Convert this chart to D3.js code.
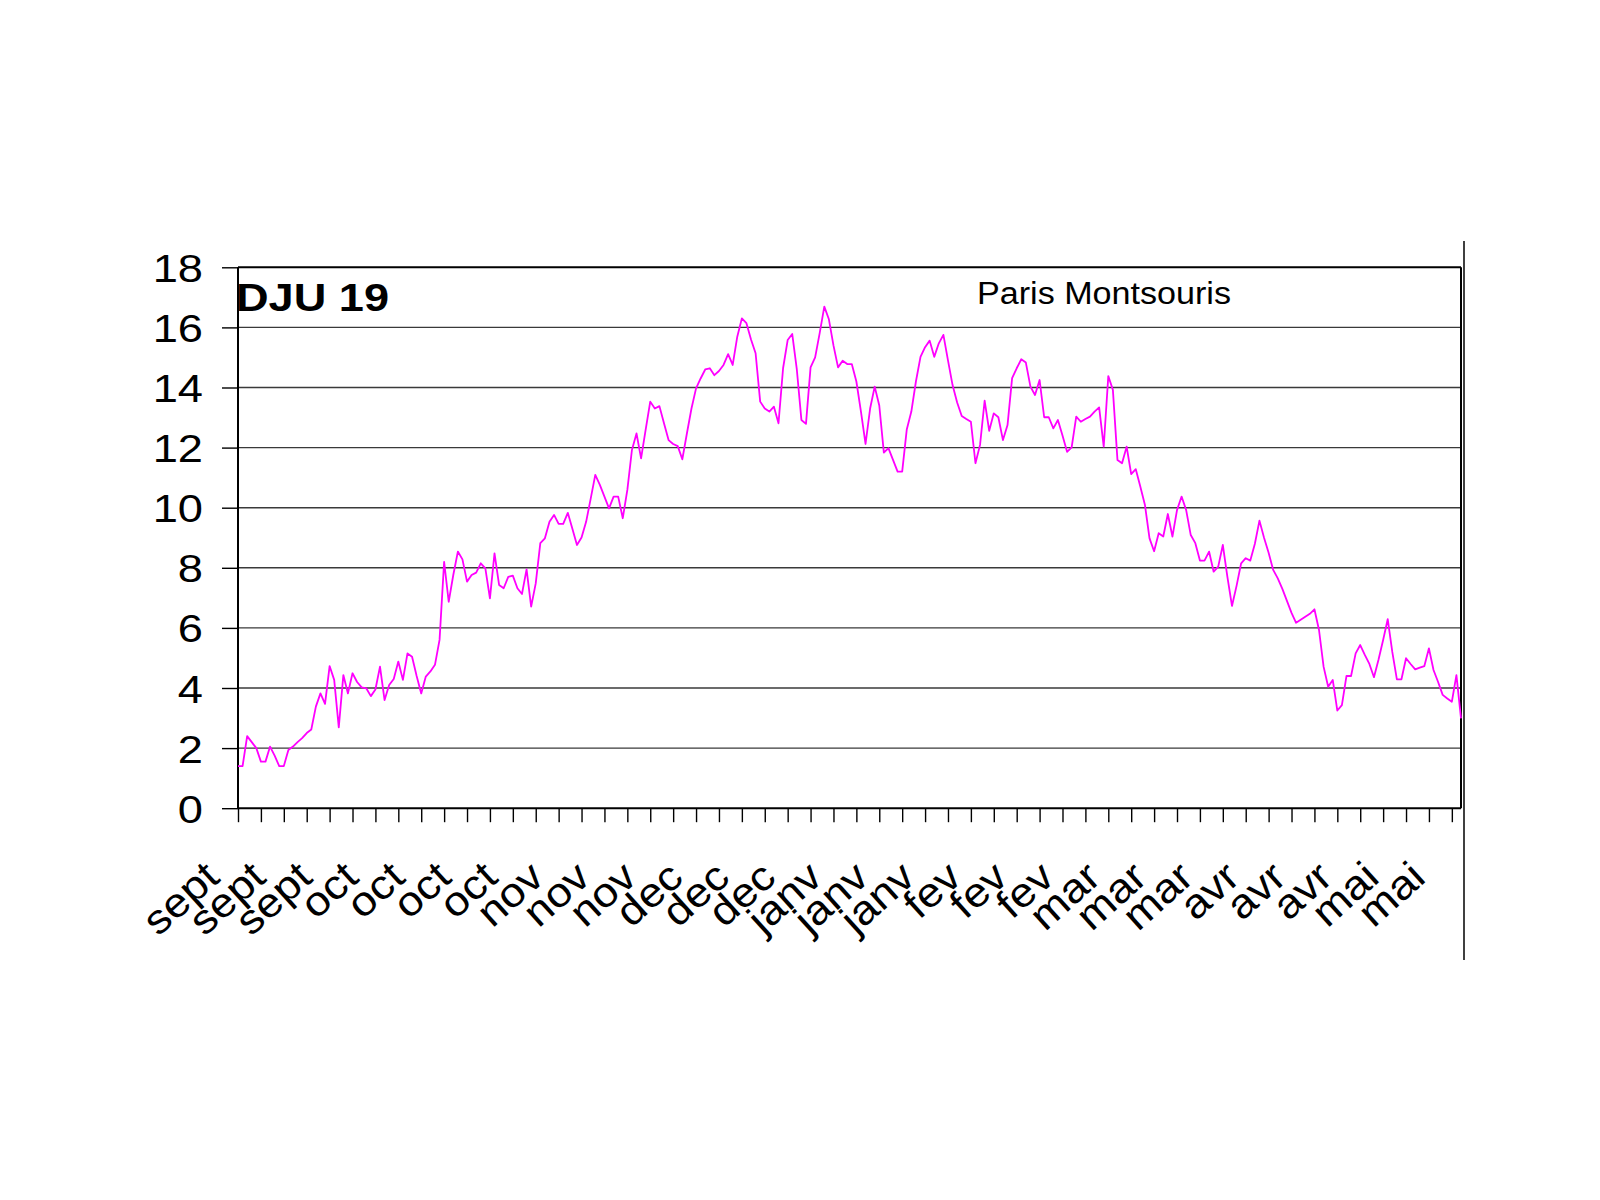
<!DOCTYPE html>
<html><head><meta charset="utf-8">
<script src="https://cdn.jsdelivr.net/npm/d3@7"></script>
<style>body{margin:0;background:#fff}</style>
</head><body><svg id="c" width="1600" height="1200"></svg>
<script>
// Daily DJU values (Sept -> May)
const values = [
1.4,1.4,2.4,2.2,2.0,1.55,1.55,2.05,1.75,1.4,
1.4,1.94,2.05,2.2,2.33,2.5,2.62,3.38,3.82,3.47,
4.73,4.27,2.69,4.43,3.82,4.49,4.2,4.02,3.99,3.73,
3.95,4.71,3.6,4.1,4.3,4.88,4.27,5.15,5.04,4.4,
3.82,4.38,4.55,4.77,5.6,
8.2,6.87,7.76,8.54,8.28,7.54,7.76,7.84,8.15,7.98,6.98,8.48,7.43,7.32,7.7,7.74,7.32,7.13,7.95,6.71,7.48,8.82,
8.98,9.53,9.76,9.46,9.46,9.83,9.3,8.76,9.01,9.53,10.3,11.09,10.76,10.37,9.98,10.37,10.37,9.65,10.59,11.92,12.47,
11.64,12.6,13.53,13.3,13.38,12.81,12.25,12.12,12.05,11.61,12.47,13.3,
13.97,14.3,14.6,14.64,14.41,14.55,14.75,15.11,14.75,15.69,
16.3,16.14,15.6,15.14,13.53,13.3,13.2,13.36,12.81,14.64,
15.58,15.78,14.6,12.92,12.79,14.67,15.0,15.82,16.69,
16.27,15.4,14.67,14.89,14.78,14.78,14.2,13.2,12.12,13.3,
14.03,13.4,11.83,11.98,11.59,11.2,11.2,12.6,13.2,14.2,
15.02,15.34,15.56,15.02,15.47,15.75,14.9,14.08,13.5,13.05,
12.95,12.86,11.48,
12.09,13.56,12.56,13.14,13.01,12.25,12.75,14.31,14.64,14.94,
14.83,14.03,13.75,14.25,13.01,13.01,12.64,12.92,12.4,11.86,
12.01,13.03,12.86,12.95,13.03,13.2,13.34,12.03,14.38,13.92,
11.59,11.48,12.03,11.12,11.28,10.7,10.09,8.98,8.55,
9.15,9.04,9.79,9.04,9.92,10.37,9.92,9.09,8.82,8.24,
8.24,8.54,7.87,8.04,8.76,7.7,6.73,7.4,8.15,8.32,
8.24,8.8,9.57,9.0,8.5,7.93,7.65,7.3,6.9,6.5,
6.17,6.27,6.37,6.47,
6.62,5.93,4.71,4.04,4.27,3.25,3.43,4.4,4.4,5.15,
5.43,5.1,4.8,4.36,4.95,5.6,6.29,5.2,4.29,4.29,
4.99,4.8,4.62,4.68,4.73,5.32,4.6,4.2,3.77,3.65,
3.54,4.43,2.99
];
const xTickLabels = ["sept","sept","sept","oct","oct","oct","oct","nov","nov","nov",
  "dec","dec","dec","janv","janv","janv","fev","fev","fev","mar","mar","mar",
  "avr","avr","avr","mai","mai"];
const yTickValues = [0,2,4,6,8,10,12,14,16,18];
const chartTitle = "DJU 19";
const stationName = "Paris Montsouris";

const svg = d3.select("#c");
const L = 238, R = 1461, T = 267.3, B = 808.2;
const font = "'Liberation Sans', Arial, Helvetica, sans-serif";
const x = d3.scaleLinear().domain([0, values.length - 1]).range([L, R]);
const y = d3.scaleLinear().domain([0, 18]).range([B, T]);

svg.append("rect").attr("width", 1600).attr("height", 1200).attr("fill", "#fff");

// gridlines
svg.append("g").selectAll("line")
  .data(yTickValues.filter(v => v > 0 && v < 18)).join("line")
  .attr("x1", L).attr("x2", R)
  .attr("y1", d => y(d)).attr("y2", d => y(d))
  .attr("stroke", "#3a3a3a").attr("stroke-width", 1.4);

// y axis
const gy = svg.append("g").attr("transform", `translate(${L},0)`)
  .call(d3.axisLeft(y).tickValues(yTickValues).tickSize(16).tickPadding(19).tickFormat(d3.format("d")));
gy.select(".domain").remove();
gy.selectAll(".tick line").attr("stroke", "#000").attr("stroke-width", 1.4);
gy.selectAll(".tick text").attr("font-family", font).attr("font-size", 39).attr("fill", "#000")
  .attr("dy", "0.36em")
  .each(function () { const w = this.getComputedTextLength(); d3.select(this).attr("textLength", w * 1.16).attr("lengthAdjust", "spacingAndGlyphs"); });

// x axis
const tickIdx = d3.range(0, values.length - 1, 5);
const gx = svg.append("g").attr("transform", `translate(0,${B})`)
  .call(d3.axisBottom(x).tickValues(tickIdx).tickSize(14)
    .tickFormat(d => d % 10 === 0 ? xTickLabels[d / 10] : ""));
gx.select(".domain").remove();
gx.selectAll(".tick line").attr("stroke", "#000").attr("stroke-width", 1.4);
gx.selectAll(".tick text").attr("font-family", font).attr("font-size", 41).attr("fill", "#000")
  .attr("x", 0).attr("y", 0).attr("dy", 0)
  .attr("text-anchor", "end")
  .attr("transform", d => `translate(${-17 + 0.058 * d},72) rotate(-42)`)
  .each(function () { const w = this.getComputedTextLength(); if (w > 0) d3.select(this).attr("textLength", w * 1.1).attr("lengthAdjust", "spacingAndGlyphs"); });

// plot frame
svg.append("line").attr("x1", L).attr("x2", R).attr("y1", T).attr("y2", T).attr("stroke", "#000").attr("stroke-width", 2);
svg.append("line").attr("x1", L).attr("x2", R).attr("y1", B).attr("y2", B).attr("stroke", "#000").attr("stroke-width", 2);
svg.append("line").attr("x1", L).attr("x2", L).attr("y1", T).attr("y2", B).attr("stroke", "#000").attr("stroke-width", 2);
svg.append("line").attr("x1", R).attr("x2", R).attr("y1", T).attr("y2", B).attr("stroke", "#000").attr("stroke-width", 2);
// outer right edge line
svg.append("line").attr("x1", R + 3).attr("x2", R + 3).attr("y1", 241).attr("y2", 960).attr("stroke", "#000").attr("stroke-width", 1.5);

// data line
svg.append("path").datum(values)
  .attr("fill", "none").attr("stroke", "#ff00ff").attr("stroke-width", 1.8)
  .attr("stroke-linejoin", "round")
  .attr("d", d3.line().x((d, i) => x(i)).y(d => y(d)));

// titles
svg.append("text").attr("x", 236).attr("y", 311).text(chartTitle)
  .attr("font-family", font).attr("font-weight", "bold").attr("font-size", 39)
  .attr("textLength", 153).attr("lengthAdjust", "spacingAndGlyphs");
svg.append("text").attr("x", 977).attr("y", 304).text(stationName)
  .attr("font-family", font).attr("font-size", 31)
  .attr("textLength", 254).attr("lengthAdjust", "spacingAndGlyphs");
</script></body></html>
